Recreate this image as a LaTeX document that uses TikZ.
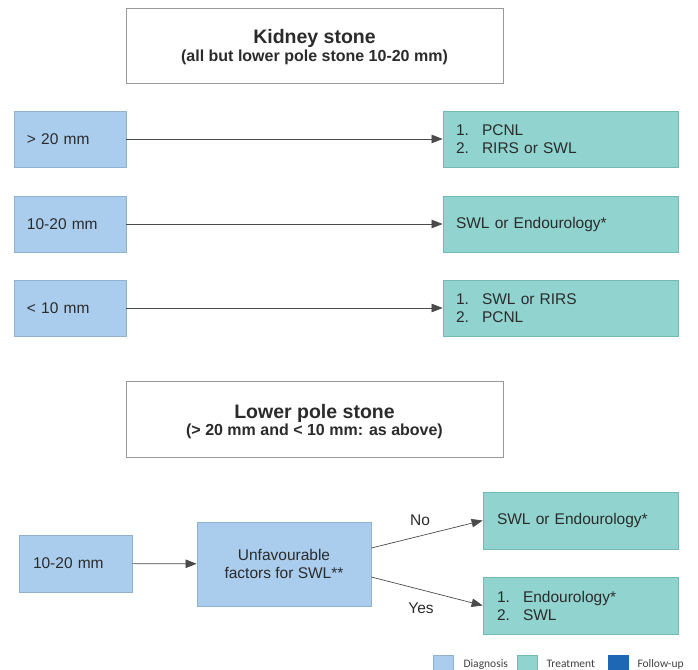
\documentclass[tikz,border=0pt]{standalone}
\usepackage{fontspec}
\setmainfont{Liberation Sans}
\newfontfamily\legendfont{Carlito}
\usetikzlibrary{arrows.meta}
\definecolor{diagfill}{HTML}{AACDEE}
\definecolor{diagdraw}{HTML}{8FB2D3}
\definecolor{treatfill}{HTML}{91D4CF}
\definecolor{treatdraw}{HTML}{74B9B3}
\definecolor{followfill}{HTML}{1E67B4}
\definecolor{txt}{HTML}{2B2B2B}
\definecolor{linecol}{HTML}{4A4A4A}
\newcommand{\itm}[1]{\makebox[26pt][l]{#1}}
\tikzset{
  every node/.style={text=txt},
  titlebox/.style={draw=black!40, line width=0.8pt, fill=white, minimum width=377pt, inner sep=0pt, align=center, font=\bfseries},
  diagbox/.style={draw=diagdraw, fill=diagfill, line width=0.8pt, inner ysep=0pt, font=\fontsize{15.5}{18}\selectfont},
  treatbox/.style={draw=treatdraw, fill=treatfill, line width=0.8pt, inner ysep=0pt, font=\fontsize{15.5}{18}\selectfont},
  conn/.style={draw=linecol, line width=0.7pt, -{Triangle[length=11pt,width=8.5pt]}},
  lbl/.style={font=\fontsize{15.5}{18}\selectfont},
  legtxt/.style={font=\legendfont\fontsize{11.5}{13}\selectfont, anchor=base west, text=black!75}
}
\begin{document}
\begin{tikzpicture}[x=1pt,y=-1pt]
\useasboundingbox (0,0) rectangle (698,669);
\clip (0,0) rectangle (698,669);
% top title
\node[titlebox, minimum height=75pt] (t1) at (314.5,45.5) {};
\node[font=\bfseries\fontsize{19.5}{22}\selectfont] (t1a) at (314.5,38) {Kidney stone};
\node[font=\bfseries\fontsize{16}{18}\selectfont] (t1b) at (314.5,57) {(all but lower pole stone 10-20 mm)};
% rows
\node[diagbox, minimum height=56pt, text width=86pt, inner xsep=13pt, align=left] (a1) at (70,139) {> 20 mm};
\node[diagbox, minimum height=56pt, text width=86pt, inner xsep=13pt, align=left] (a2) at (70,224) {10-20 mm};
\node[diagbox, minimum height=56pt, text width=86pt, inner xsep=13pt, align=left] (a3) at (70,308) {< 10 mm};
\node[treatbox, minimum height=56pt, text width=209pt, inner xsep=13pt, align=left] (b1) at (560.5,139) {\itm{1.}PCNL\\\itm{2.}RIRS or SWL};
\node[treatbox, minimum height=56pt, text width=209pt, inner xsep=13pt, align=left] (b2) at (560.5,224) {SWL or Endourology*};
\node[treatbox, minimum height=56pt, text width=209pt, inner xsep=13pt, align=left] (b3) at (560.5,308) {\itm{1.}SWL or RIRS\\\itm{2.}PCNL};
\draw[conn] (a1) -- (b1);
\draw[conn] (a2) -- (b2);
\draw[conn] (a3) -- (b3);
% lower pole title
\node[titlebox, minimum height=76pt] (t2) at (314.5,419) {};
\node[font=\bfseries\fontsize{19.5}{22}\selectfont] (t2a) at (314.5,413) {Lower pole stone};
\node[font=\bfseries\fontsize{16}{18}\selectfont] (t2b) at (314.5,431.5) {(> 20 mm and < 10 mm: as above)};
% bottom part
\node[diagbox, minimum height=57pt, text width=85pt, inner xsep=14pt, align=left] (c1) at (75.5,563.5) {10-20 mm};
\node[diagbox, minimum height=84pt, minimum width=174pt, align=center] (c2) at (284,564) {Unfavourable\\factors for SWL**};
\node[treatbox, minimum height=57pt, text width=167pt, inner xsep=14pt, align=left] (d1) at (580.5,520.5) {SWL or Endourology*};
\node[treatbox, minimum height=57pt, text width=167pt, inner xsep=14pt, align=left] (d2) at (580.5,605.5) {\itm{1.}Endourology*\\\itm{2.}SWL};
\draw[conn] (c1) -- (c2);
\draw[conn] ([yshift=16pt]c2.east) -- (d1.west);
\draw[conn] ([yshift=-13pt]c2.east) -- (d2.west);
\node[lbl] (no) at (420,520) {No};
\node[lbl] (yes) at (421,608) {Yes};
% legend
\node[draw=diagdraw, fill=diagfill, line width=0.8pt, minimum width=20pt, minimum height=16pt, inner sep=0pt] (l1) at (443,663) {};
\node[legtxt] (l1t) at (460,667) {Diagnosis};
\node[draw=treatdraw, fill=treatfill, line width=0.8pt, minimum width=20pt, minimum height=16pt, inner sep=0pt] (l2) at (527.5,663) {};
\node[legtxt] (l2t) at (543,667) {Treatment};
\node[draw=followfill, fill=followfill, line width=0.8pt, minimum width=20pt, minimum height=16pt, inner sep=0pt] (l3) at (618,663) {};
\node[legtxt] (l3t) at (634,667) {Follow-up};
\end{tikzpicture}
\end{document}
